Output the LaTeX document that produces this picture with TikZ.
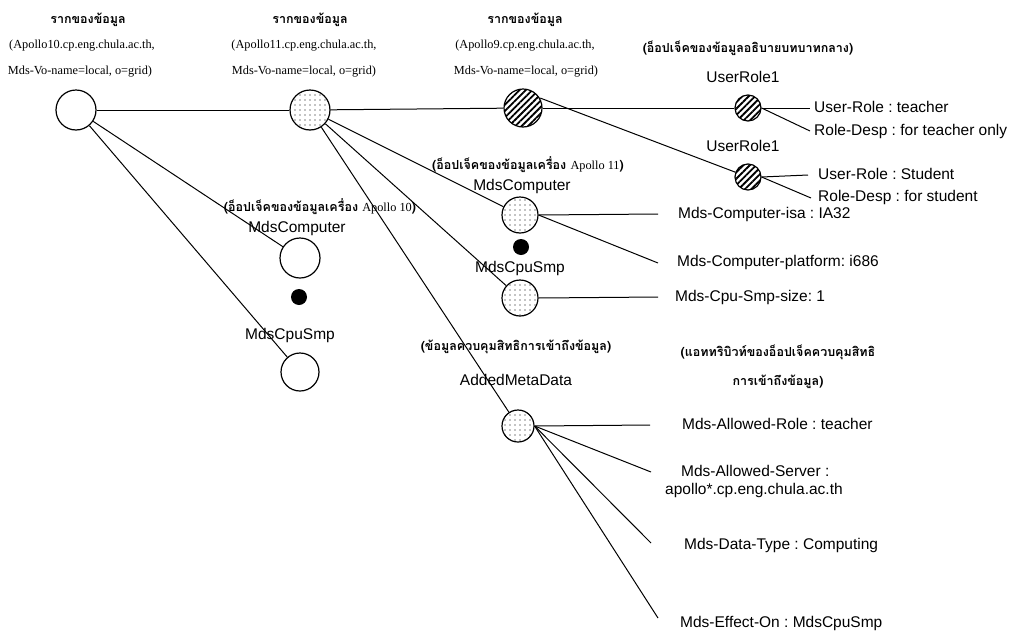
\documentclass[tikz,border=0pt]{standalone}
\usepackage{fontspec}
\setmainfont{Liberation Serif}
\setsansfont{Liberation Sans}
\newfontfamily\thai[Script=Thai]{Loma}
\usetikzlibrary{patterns.meta}
\frenchspacing
\begin{document}
\begin{tikzpicture}[x=1pt,y=-1pt,
  ent/.style={circle,draw,line width=1.2pt,inner sep=0pt,minimum size=#1},
  dotfill/.style={pattern={Dots[distance=5pt,radius=0.7pt]}},
  hatchfill/.style={pattern={Lines[angle=45,distance=4.5pt,line width=1.8pt]}},
  blob/.style={circle,fill=black,inner sep=0pt,minimum size=16pt},
  conn/.style={line width=1pt},
  sans/.style={font=\sffamily\fontsize{15.5}{17}\selectfont,inner sep=0pt},
  serif/.style={font=\fontsize{12.3}{14}\selectfont,inner sep=0pt},
  thaist/.style={font=\thai\bfseries\fontsize{12.5}{29}\selectfont,inner sep=0pt},
  attr/.style={sans,anchor=west}]
\useasboundingbox (0,0) rectangle (1015,635);

% top labels
\node[thaist] (t1a) at (88,20) {รากของข้อมูล};
\node[serif] (t1b) at (82,46) {(Apollo10.cp.eng.chula.ac.th,};
\node[serif] (t1c) at (80,72) {Mds-Vo-name=local, o=grid)};
\node[thaist] (t2a) at (310,20) {รากของข้อมูล};
\node[serif] (t2b) at (304,46) {(Apollo11.cp.eng.chula.ac.th,};
\node[serif] (t2c) at (304,72) {Mds-Vo-name=local, o=grid)};
\node[thaist] (t3a) at (525,20) {รากของข้อมูล};
\node[serif] (t3b) at (525,46) {(Apollo9.cp.eng.chula.ac.th,};
\node[serif] (t3c) at (526,72) {Mds-Vo-name=local, o=grid)};
\node[thaist] (t4) at (748,48) {(อ็อปเจ็คของข้อมูลอธิบายบทบาทกลาง)};

% main nodes
\node[ent=40pt] (a10) at (76,110) {};
\node[ent=40pt,dotfill] (a11) at (310,110) {};
\node[ent=38pt,hatchfill] (a9) at (523,108) {};
\node[ent=26pt,hatchfill] (ur1) at (748,108) {};
\node[ent=26pt,hatchfill] (ur2) at (748,177) {};
\node[sans] (lur1) at (743,77) {UserRole1};
\node[sans] (lur2) at (743,146) {UserRole1};

% Apollo10 objects
\node[thaist] (l10) at (320,207) {(อ็อปเจ็คของข้อมูลเครื่อง {\normalfont\fontsize{12.3}{14}\selectfont Apollo 10})};
\node[sans] (lmc10) at (297,228) {MdsComputer};
\node[ent=40pt] (mc10) at (300,258) {};
\node[blob] (d10) at (299,297) {};
\node[sans] (lms10) at (290,335) {MdsCpuSmp};
\node[ent=38pt] (ms10) at (300,372) {};

% Apollo11 objects
\node[thaist] (l11) at (528,165) {(อ็อปเจ็คของข้อมูลเครื่อง {\normalfont\fontsize{12.3}{14}\selectfont Apollo 11})};
\node[sans] (lmc11) at (522,186) {MdsComputer};
\node[ent=36pt,dotfill] (mc11) at (520,215) {};
\node[blob] (d11) at (521,247) {};
\node[sans] (lms11) at (520,268) {MdsCpuSmp};
\node[ent=36pt,dotfill] (ms11) at (520,298) {};

% added metadata
\node[thaist] (lam1) at (516,347) {(ข้อมูลควบคุมสิทธิการเข้าถึงข้อมูล)};
\node[sans] (lam2) at (516,380) {AddedMetaData};
\node[ent=32pt,dotfill] (amd) at (518,426) {};
\node[thaist,align=center] (lat) at (778,367) {(แอททริบิวท์ของอ็อปเจ็คควบคุมสิทธิ\\การเข้าถึงข้อมูล)};

% attribute end points and texts
\coordinate (e1) at (810,108);
\coordinate (e2) at (810,131);
\coordinate (e3) at (808,175);
\coordinate (e4) at (811,198);
\coordinate (e5) at (658,214);
\coordinate (e6) at (658,263);
\coordinate (e7) at (658,297);
\coordinate (e8) at (650,425);
\coordinate (e9) at (651,472);
\coordinate (e10) at (651,543);
\coordinate (e11) at (658,618);

\node[attr] (x1) at (814,107) {User-Role : teacher};
\node[attr] (x2) at (814,131) {Role-Desp : for teacher only};
\node[attr] (x3) at (818,174) {User-Role : Student};
\node[attr] (x4) at (818,197) {Role-Desp : for student};
\node[attr] (x5) at (678,214) {Mds-Computer-isa : IA32};
\node[attr] (x6) at (677,262) {Mds-Computer-platform: i686};
\node[attr] (x7) at (675,297) {Mds-Cpu-Smp-size: 1};
\node[attr] (x8) at (682,424) {Mds-Allowed-Role : teacher};
\node[attr] (x9) at (681,471) {Mds-Allowed-Server :};
\node[attr] (x9b) at (665,490) {apollo*.cp.eng.chula.ac.th};
\node[attr] (x10) at (684,545) {Mds-Data-Type : Computing};
\node[attr] (x11) at (680,623) {Mds-Effect-On : MdsCpuSmp};

% connectors
\draw[conn] (a10) -- (a11);
\draw[conn] (a11) -- (a9);
\draw[conn] (a9) -- (ur1);
\draw[conn] (a9.30) -- (ur2);
\draw[conn] (a10) -- (mc10);
\draw[conn] (a10) -- (ms10);
\draw[conn] (a11) -- (mc11);
\draw[conn] (a11) -- (ms11);
\draw[conn] (a11) -- (amd);
\draw[conn] (ur1.east) -- (e1);
\draw[conn] (ur1.east) -- (e2);
\draw[conn] (ur2.east) -- (e3);
\draw[conn] (ur2.east) -- (e4);
\draw[conn] (mc11.east) -- (e5);
\draw[conn] (mc11.east) -- (e6);
\draw[conn] (ms11.east) -- (e7);
\draw[conn] (amd.east) -- (e8);
\draw[conn] (amd.east) -- (e9);
\draw[conn] (amd.east) -- (e10);
\draw[conn] (amd.east) -- (e11);
\end{tikzpicture}
\end{document}
